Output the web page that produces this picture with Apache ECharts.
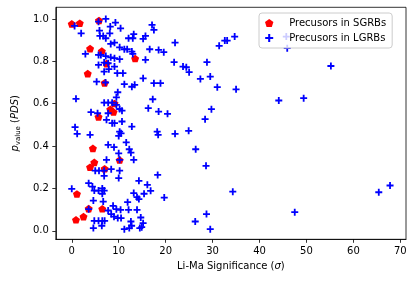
<!DOCTYPE html>
<html>
<head>
<meta charset="utf-8">
<script src="https://cdn.jsdelivr.net/npm/echarts@6/dist/echarts.min.js"></script>
<style>
html,body{margin:0;padding:0;background:#fff;}
#chart{width:415px;height:282px;}
</style>
</head>
<body>
<div id="chart"></div>
<script>
// Precursors in SGRBs
var sgrbSig = [0.0, 1.7, 5.8, 3.9, 6.4, 13.5, 7.4, 3.4, 7.0, 9.1, 8.2, 8.9, 5.7, 4.5, 10.2, 4.8, 3.9, 7.0, 1.1, 3.6, 6.5, 2.5, 0.9];
var sgrbP   = [0.977, 0.980, 0.993, 0.860, 0.848, 0.813, 0.789, 0.742, 0.698, 0.601, 0.573, 0.561, 0.538, 0.389, 0.334, 0.323, 0.300, 0.293, 0.174, 0.105, 0.104, 0.067, 0.052];

// Precursors in LGRBs
var lgrbSig = [
  7.25, 5.7, 0.6, 9.3, 8.2, 10.4, 5.9, 2.0, 8.1, 6.0, 6.7, 7.25, 17.1, 17.5, 13.2, 13.0, 12.1, 15.7, 15.2,
  9.1, 8.3, 10.2, 11.2, 11.8, 12.8, 2.9, 5.7, 6.2, 7.25, 8.3, 9.1, 10.2, 13.0, 6.9, 7.75, 5.7, 9.1, 7.9, 6.9, 9.7, 10.9,
  5.3, 7.2, 11.2, 12.8, 13.4, 9.8, 0.9, 9.5, 6.9, 7.75, 8.6, 9.5, 10.2, 10.7, 4.1, 5.5, 7.75, 8.6, 9.1, 10.7, 12.8, 0.7,
  16.6, 18.5, 19.6, 15.7, 15.2, 17.5, 18.9, 17.25, 16.3, 18.5,
  7.4, 1.15, 3.9, 10.2, 10.5, 10.0, 18.2, 18.4, 7.75, 9.0, 11.6, 10.0, 12.25, 12.6, 13.2, 7.4, 10.2,
  5.0, 5.8, 6.9, 8.4, 10.2, 6.9, 10.0, 14.3, 3.6, 4.4, 0.0, 4.8, 5.7, 6.5, 6.9, 6.5, 13.2, 13.9, 14.3,
  4.6, 6.7, 11.9, 8.8, 9.5, 7.75, 10.4, 12.1, 3.6, 8.4, 9.0, 13.9, 9.8, 10.5, 4.8, 5.7, 6.5, 7.0,
  12.6, 12.75, 4.6, 11.2, 12.25, 14.5, 6.4,
  16.1, 16.8, 15.4, 19.7, 14.7, 15.2, 14.9,
  22.0, 31.4, 32.6, 33.1, 34.7, 21.8, 23.7, 24.4, 25.0, 28.8, 27.4, 29.5, 31.0, 35.0, 44.1, 20.4, 29.75, 28.4,
  24.9, 22.0, 26.4, 28.6, 18.3, 34.3, 28.7, 26.3, 29.5,
  45.7, 45.9, 55.2, 49.4, 47.5, 65.4, 67.8
];
var lgrbP = [
  1.0, 0.987, 0.967, 0.983, 0.964, 0.956, 0.945, 0.932, 0.932, 0.92, 0.92, 0.909, 0.972, 0.948, 0.928, 0.909, 0.909, 0.92, 0.906,
  0.888, 0.882, 0.866, 0.857, 0.857, 0.846, 0.835, 0.83, 0.83, 0.825, 0.819, 0.815, 0.81, 0.835, 0.794, 0.791, 0.783, 0.775, 0.763, 0.751, 0.744, 0.744,
  0.704, 0.70, 0.692, 0.68, 0.689, 0.654, 0.623, 0.63, 0.605, 0.605, 0.605, 0.594, 0.575, 0.567, 0.56, 0.555, 0.555, 0.508, 0.508, 0.516, 0.492, 0.489,
  0.857, 0.854, 0.843, 0.807, 0.72, 0.697, 0.697, 0.621, 0.579, 0.563,
  0.524, 0.458, 0.453, 0.468, 0.46, 0.448, 0.468, 0.453, 0.406, 0.395, 0.417, 0.366, 0.385, 0.369, 0.335, 0.335, 0.335,
  0.284, 0.284, 0.284, 0.291, 0.284, 0.259, 0.249, 0.236, 0.225, 0.209, 0.198, 0.19, 0.19, 0.2, 0.19, 0.175, 0.178, 0.159, 0.15,
  0.143, 0.138, 0.135, 0.118, 0.102, 0.096, 0.099, 0.099, 0.102, 0.079, 0.067, 0.099, 0.06, 0.06, 0.047, 0.047, 0.047, 0.047,
  0.044, 0.024, 0.013, 0.008, 0.013, 0.013, 0.024,
  0.217, 0.189, 0.175, 0.157, 0.063, 0.036, 0.017,
  0.888, 0.873, 0.898, 0.898, 0.917, 0.796, 0.775, 0.772, 0.749, 0.796, 0.717, 0.728, 0.678, 0.668, 0.615, 0.552, 0.574, 0.527,
  0.472, 0.458, 0.385, 0.307, 0.264, 0.185, 0.079, 0.044, 0.008,
  0.917, 0.862, 0.778, 0.626, 0.088, 0.182, 0.214
];

var xTicks = [0, 10, 20, 30, 40, 50, 60, 70];
var yTicks = [0.0, 0.2, 0.4, 0.6, 0.8, 1.0];
var seriesNames = ['Precusors in SGRBs', 'Precusors in LGRBs'];

var pentagon = 'path://M0,-1 L0.951,-0.309 L0.588,0.809 L-0.588,0.809 L-0.951,-0.309 Z';
var plus = 'path://M-0.9,-3.5 L0.9,-3.5 L0.9,-0.9 L3.5,-0.9 L3.5,0.9 L0.9,0.9 L0.9,3.5 L-0.9,3.5 L-0.9,0.9 L-3.5,0.9 L-3.5,-0.9 L-0.9,-0.9 Z';

function zip(a, b) { return a.map(function (v, i) { return [v, b[i]]; }); }

var FONT = 'DejaVu Sans';
var chart = echarts.init(document.getElementById('chart'), null, {renderer: 'canvas'});
chart.setOption({
  animation: false,
  textStyle: {fontFamily: FONT},
  grid: {left: 48.3, right: 9, top: 7.3, bottom: 42.7, show: true, borderColor: '#000', borderWidth: 0.8, backgroundColor: 'transparent', containLabel: false},
  legend: {
    orient: 'vertical',
    left: 259, top: 13,
    padding: [4, 6, 4, 6],
    itemWidth: 16, itemHeight: 8, itemGap: 3,
    backgroundColor: 'rgba(255,255,255,0.8)',
    borderColor: '#cccccc', borderWidth: 1, borderRadius: 3,
    z: 10,
    textStyle: {fontFamily: FONT, fontSize: 10, color: '#000', lineHeight: 12, padding: [0, 0, 0, 7]},
    data: [
      {name: seriesNames[0], icon: pentagon},
      {name: seriesNames[1], icon: plus}
    ]
  },
  xAxis: {
    type: 'value', min: -3.4, max: 71.2,
    name: 'Li-Ma Significance ({i|σ})', nameLocation: 'middle', nameGap: 20,
    nameTextStyle: {fontFamily: FONT, fontSize: 10, color: '#000', rich: {i: {fontFamily: FONT, fontSize: 10, fontStyle: 'italic', color: '#000'}}},
    axisLine: {show: true, onZero: false, lineStyle: {color: '#000', width: 0.8}},
    axisTick: {show: true, length: 3.5, inside: false, lineStyle: {color: '#000', width: 0.8}, customValues: xTicks},
    axisLabel: {fontFamily: FONT, fontSize: 10, color: '#000', margin: 7, customValues: xTicks, formatter: function (v) { return String(v); }},
    splitLine: {show: false}
  },
  yAxis: {
    type: 'value', min: -0.04, max: 1.055,
    name: '{i|p}{s|value} ({i|PDS})', nameLocation: 'middle', nameGap: 27, nameRotate: 90,
    nameTextStyle: {fontFamily: FONT, fontSize: 10, color: '#000', lineHeight: 14,
      rich: {
        i: {fontFamily: FONT, fontSize: 10, fontStyle: 'italic', color: '#000', lineHeight: 14, verticalAlign: 'middle'},
        s: {fontFamily: FONT, fontSize: 7, color: '#000', lineHeight: 14, verticalAlign: 'bottom'}
      }},
    axisLine: {show: true, onZero: false, lineStyle: {color: '#000', width: 0.8}},
    axisTick: {show: true, length: 3.5, inside: false, lineStyle: {color: '#000', width: 0.8}, customValues: yTicks},
    axisLabel: {fontFamily: FONT, fontSize: 10, color: '#000', margin: 7, customValues: yTicks, formatter: function (v) { return v.toFixed(1); }},
    splitLine: {show: false}
  },
  series: [
    {
      name: seriesNames[0], type: 'scatter',
      symbol: pentagon, symbolSize: [8, 7.6],
      itemStyle: {color: '#ff0000', opacity: 1},
      data: zip(sgrbSig, sgrbP), z: 2
    },
    {
      name: seriesNames[1], type: 'scatter',
      symbol: plus, symbolSize: 7,
      itemStyle: {color: '#0000ff', opacity: 1},
      data: zip(lgrbSig, lgrbP), z: 3
    }
  ]
});
</script>
</body>
</html>
